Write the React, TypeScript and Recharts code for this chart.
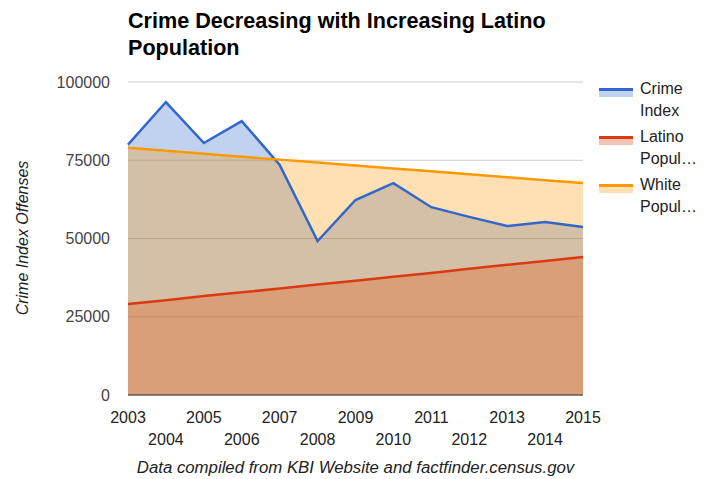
import React from 'react';
import { ComposedChart, Area, Line, XAxis, YAxis, CartesianGrid, ReferenceLine } from 'recharts';

const years = [2003, 2004, 2005, 2006, 2007, 2008, 2009, 2010, 2011, 2012, 2013, 2014, 2015];
const crimeIndex = [80000, 93600, 80500, 87500, 73500, 49200, 62300, 67700, 60000, 56900, 54000, 55300, 53700];
const latinoPop = [29100, 30300, 31600, 32800, 34000, 35300, 36500, 37800, 39000, 40300, 41600, 42800, 44100];
const whitePop = [79000, 78000, 77100, 76100, 75200, 74300, 73300, 72400, 71500, 70500, 69600, 68600, 67700];
const yTicks = [0, 25000, 50000, 75000, 100000];

const data = years.map((y, i) => ({
  year: y,
  crime: crimeIndex[i],
  latino: latinoPop[i],
  white: whitePop[i],
}));

const FONT = 'Arial, "Liberation Sans", sans-serif';

const series = [
  { key: 'crime', color: '#3366cc', lines: ['Crime', 'Index'] },
  { key: 'latino', color: '#dc3912', lines: ['Latino', 'Popul…'] },
  { key: 'white', color: '#ff9900', lines: ['White', 'Popul…'] },
];

const YearTick = (props: any) => {
  const { x, y, payload, index } = props;
  const row = index % 2 === 0 ? 0 : 22;
  return (
    <text x={x} y={y + 20 + row} textAnchor="middle" fill="#222" fontSize={16} fontFamily={FONT}>
      {payload.value}
    </text>
  );
};

export default function App() {
  return (
    <div style={{ position: 'absolute', left: 0, top: 0, width: 711, height: 479, background: '#fff', fontFamily: FONT }}>
      <div style={{ position: 'absolute', left: 128, top: 7, fontSize: 21.6, fontWeight: 'bold', color: '#000', lineHeight: '27px' }}>
        Crime Decreasing with Increasing Latino<br />Population
      </div>
      <ComposedChart width={711} height={479} data={data} margin={{ top: 82, right: 128, left: 68, bottom: 34 }}>
        <CartesianGrid vertical={false} stroke="#cccccc" />
        <XAxis
          dataKey="year"
          type="number"
          domain={[2003, 2015]}
          ticks={years}
          interval={0}
          height={50}
          tickLine={false}
          axisLine={false}
          tick={<YearTick />}
        />
        <YAxis
          domain={[0, 100000]}
          ticks={yTicks}
          width={60}
          tickLine={false}
          axisLine={false}
          tickSize={0}
          tickMargin={18}
          tick={{ fill: '#444', fontSize: 16, fontFamily: FONT }}
        />
        {series.map((s) => (
          <Area key={'a' + s.key} type="linear" dataKey={s.key} stroke="none" fill={s.color} fillOpacity={0.3} isAnimationActive={false} />
        ))}
        <ReferenceLine y={0} stroke="#333" strokeWidth={1} />
        {series.map((s) => (
          <Line key={'l' + s.key} type="linear" dataKey={s.key} stroke={s.color} strokeWidth={2.5} dot={false} isAnimationActive={false} />
        ))}
      </ComposedChart>
      <svg style={{ position: 'absolute', left: 0, top: 0 }} width={60} height={479}>
        <text x={22} y={238} transform="rotate(-90 22 238)" textAnchor="middle" dominantBaseline="central" fill="#222" fontSize={16} fontStyle="italic" fontFamily={FONT}>
          Crime Index Offenses
        </text>
      </svg>
      <div style={{ position: 'absolute', left: 599, top: 78 }}>
        {series.map((it) => (
          <div key={it.key} style={{ display: 'flex', height: 48 }}>
            <div style={{ width: 34, marginTop: 10 }}>
              <div style={{ height: 3, background: it.color }} />
              <div style={{ height: 6, background: it.color, opacity: 0.3 }} />
            </div>
            <div style={{ marginLeft: 7, fontSize: 16, color: '#222', lineHeight: '22px' }}>
              {it.lines[0]}<br />{it.lines[1]}
            </div>
          </div>
        ))}
      </div>
      <div style={{ position: 'absolute', left: 0, width: 711, top: 458, textAlign: 'center', fontSize: 16.8, fontStyle: 'italic', color: '#222' }}>
        Data compiled from KBI Website and factfinder.census.gov
      </div>
    </div>
  );
}
